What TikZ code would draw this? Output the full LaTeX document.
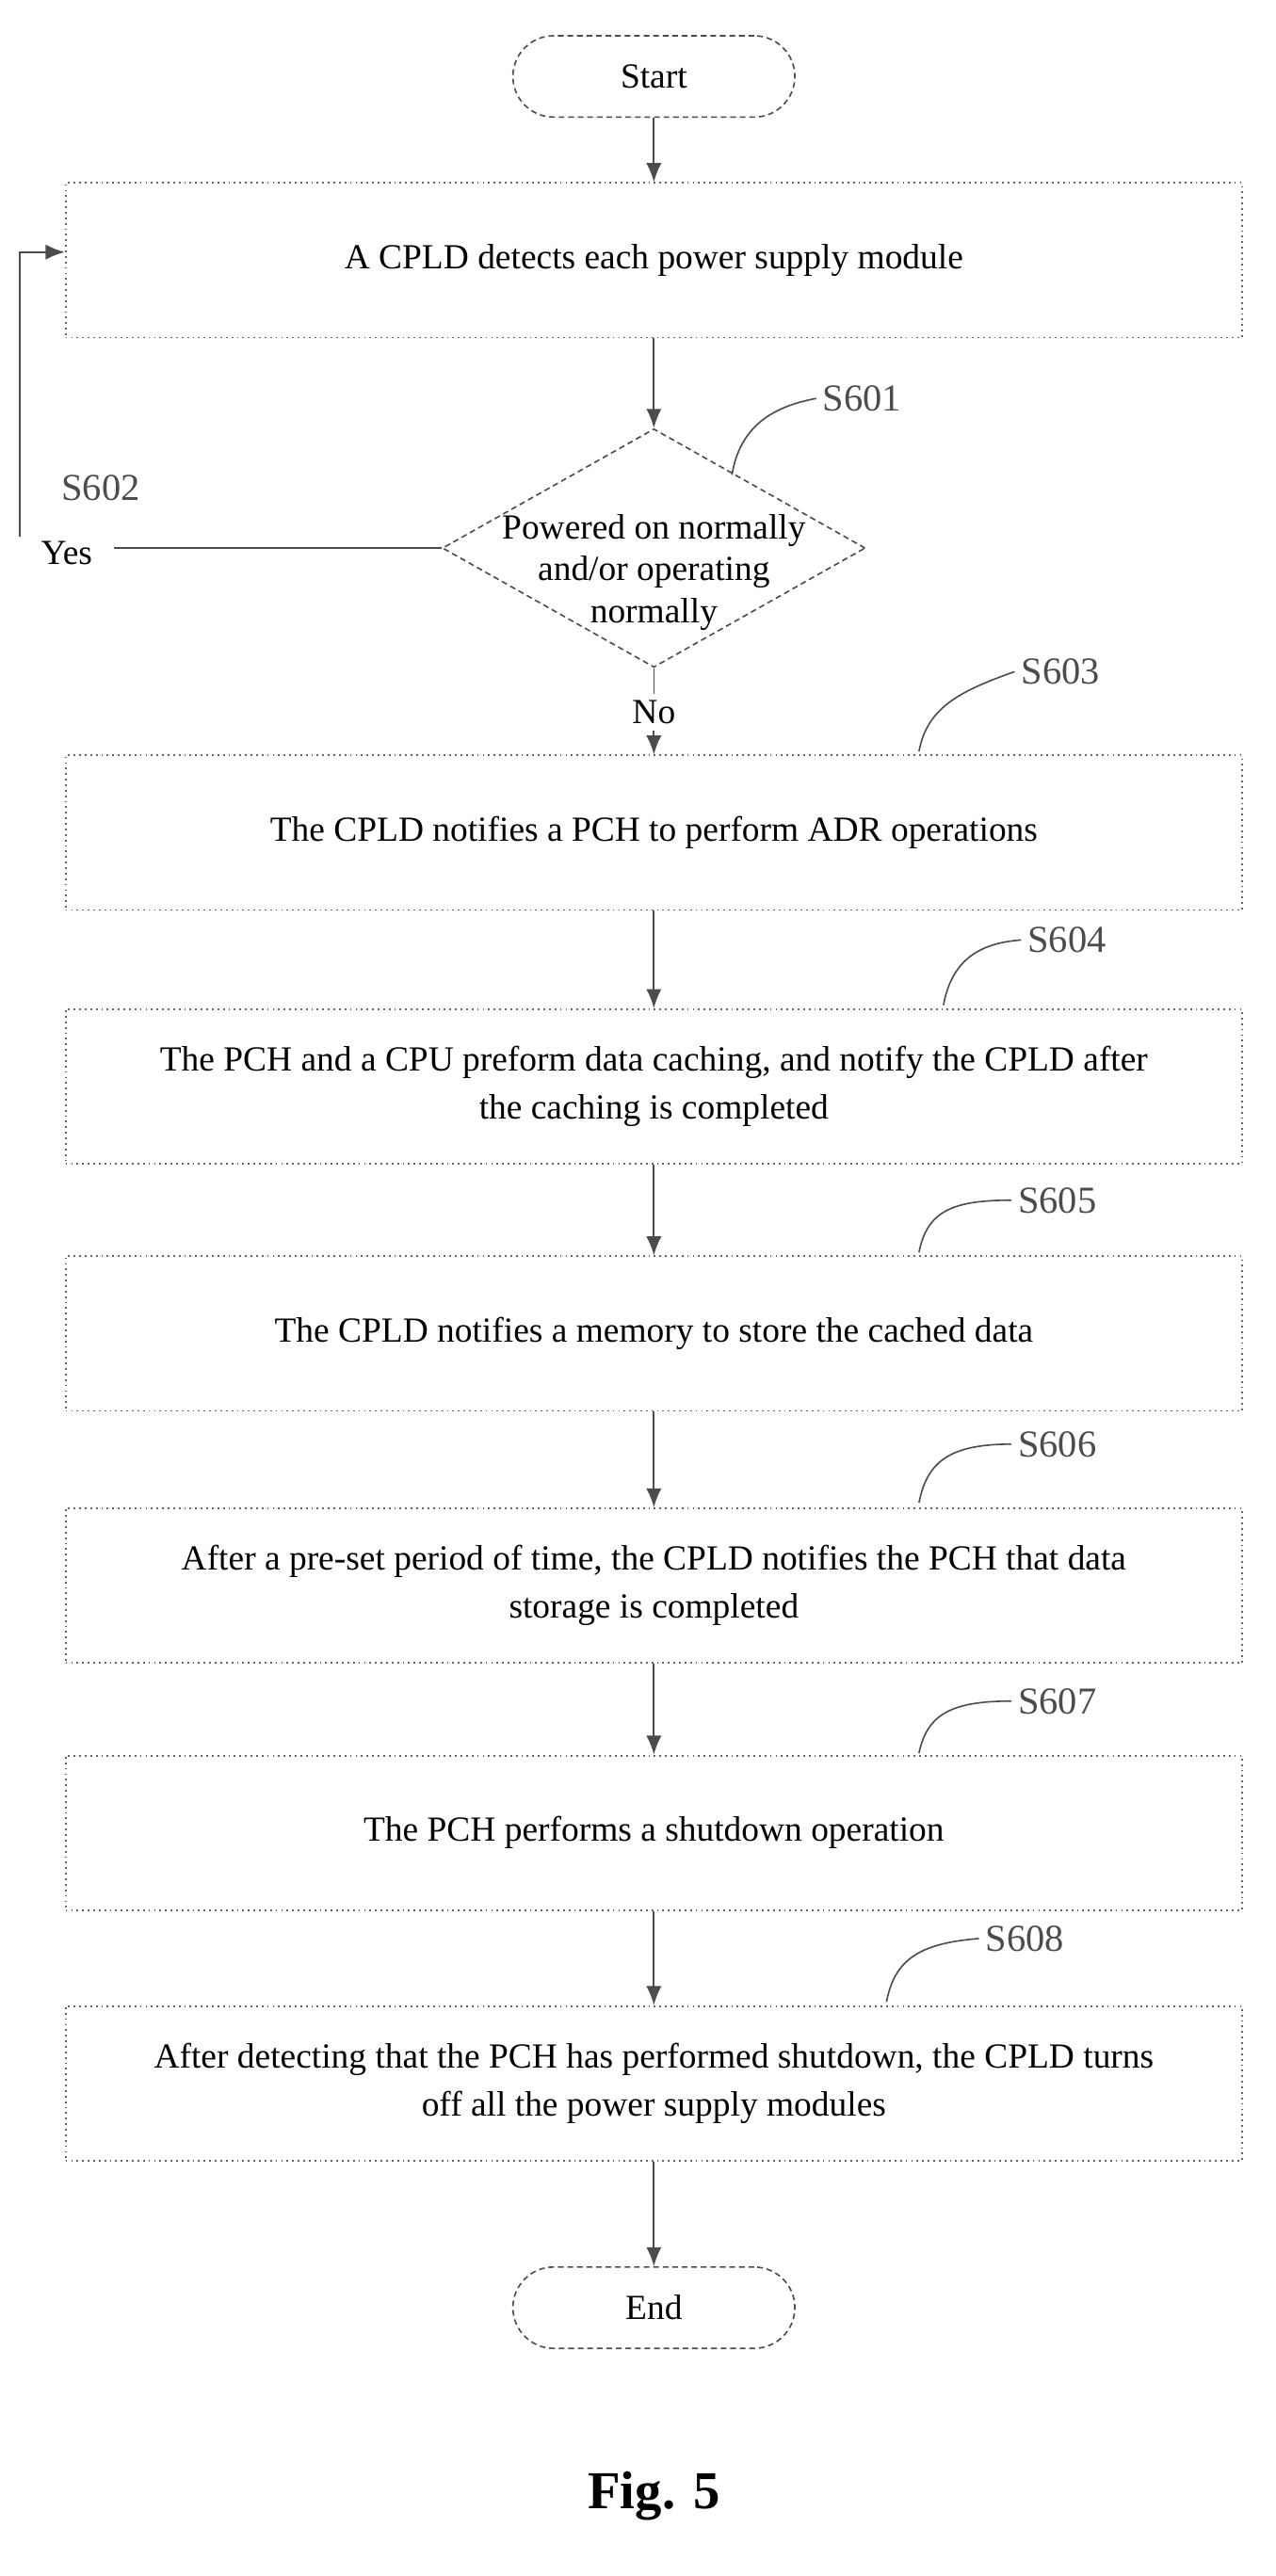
\documentclass[tikz,border=0pt]{standalone}
\usepackage{fontspec}
\setmainfont{Liberation Serif}
\usetikzlibrary{shapes.geometric,arrows.meta}

\tikzset{
  stepbox/.style={draw=black!60,dotted,line width=0.9pt,minimum width=21.7cm,minimum height=2.85cm,
    align=center,font=\fontsize{18.5}{25}\selectfont},
  term/.style={draw=black!70,densely dashed,line width=0.8pt,rounded corners=0.75cm,
    minimum width=5.2cm,minimum height=1.5cm,font=\fontsize{18.5}{22}\selectfont},
  decision/.style={diamond,draw=black!70,densely dashed,line width=0.8pt,inner sep=0pt,
    minimum width=7.8cm,minimum height=4.4cm},
  tag/.style={font=\fontsize{20}{22}\selectfont,text=black!70},
  flow/.style={-{Latex[length=10pt,width=8pt]},line width=0.9pt,black!70},
  hook/.style={line width=0.8pt,black!70}
}

\begin{document}
\begin{tikzpicture}[x=0.03cm,y=-0.03cm]
  \useasboundingbox (0,0) rectangle (784,1584);

  \node[term] (start) at (402,47) {Start};
  \node[stepbox] (s1) at (402,160) {A CPLD detects each power supply module};
  \node[decision] (dec) at (402,337) {};
  \node[align=center,font=\fontsize{18.5}{22}\selectfont] (dectext) at (402,352) {Powered on normally\\and/or operating\\normally};
  \node[stepbox] (s3) at (402,512) {The CPLD notifies a PCH to perform ADR operations};
  \node[stepbox] (s4) at (402,668) {The PCH and a CPU preform data caching, and notify the CPLD after\\the caching is completed};
  \node[stepbox] (s5) at (402,820) {The CPLD notifies a memory to store the cached data};
  \node[stepbox] (s6) at (402,975) {After a pre-set period of time, the CPLD notifies the PCH that data\\storage is completed};
  \node[stepbox] (s7) at (402,1127) {The PCH performs a shutdown operation};
  \node[stepbox] (s8) at (402,1281) {After detecting that the PCH has performed shutdown, the CPLD turns\\off all the power supply modules};
  \node[term] (end) at (402,1419) {End};
  \node[font=\fontsize{28}{32}\selectfont\bfseries] (fig) at (402,1535) {Fig. 5};

  % yes / no
  \node[font=\fontsize{18.5}{22}\selectfont] (yes) at (41,340) {Yes};
  \node[font=\fontsize{18.5}{22}\selectfont] (no) at (402,438) {No};
  \coordinate (yesend) at (70,337);
  \coordinate (loopb) at (12,330);
  \coordinate (loopt) at (12,155);

  % step labels
  \node[tag] (t601) at (530,245) {S601};
  \node[tag] (t602) at (62,300) {S602};
  \node[tag] (t603) at (652,413) {S603};
  \node[tag] (t604) at (656,578) {S604};
  \node[tag] (t605) at (650,738) {S605};
  \node[tag] (t606) at (650,888) {S606};
  \node[tag] (t607) at (650,1046) {S607};
  \node[tag] (t608) at (630,1192) {S608};

  \draw[flow] (start) -- (s1);
  \draw[flow] (s1) -- (dec);
  \draw[hook] (dec.south) -- (no);
  \draw[flow] (no) -- (s3);
  \draw[flow] (s3) -- (s4);
  \draw[flow] (s4) -- (s5);
  \draw[flow] (s5) -- (s6);
  \draw[flow] (s6) -- (s7);
  \draw[flow] (s7) -- (s8);
  \draw[flow] (s8) -- (end);
  \draw[hook] (dec.west) -- (yesend);
  \draw[flow] (loopb) -- (loopt) -- (s1.west |- loopt);

  % leader curves
  \draw[hook] (450,292) .. controls (455,262) and (475,250) .. (t601.west);
  \draw[hook] (565,462) .. controls (570,435) and (590,425) .. (t603.west);
  \draw[hook] (580,618) .. controls (585,592) and (600,580) .. (t604.west);
  \draw[hook] (565,770) .. controls (570,745) and (585,738) .. (t605.west);
  \draw[hook] (565,924) .. controls (570,898) and (585,888) .. (t606.west);
  \draw[hook] (565,1078) .. controls (570,1054) and (585,1046) .. (t607.west);
  \draw[hook] (545,1231) .. controls (550,1205) and (565,1195) .. (t608.west);
\end{tikzpicture}
\end{document}
